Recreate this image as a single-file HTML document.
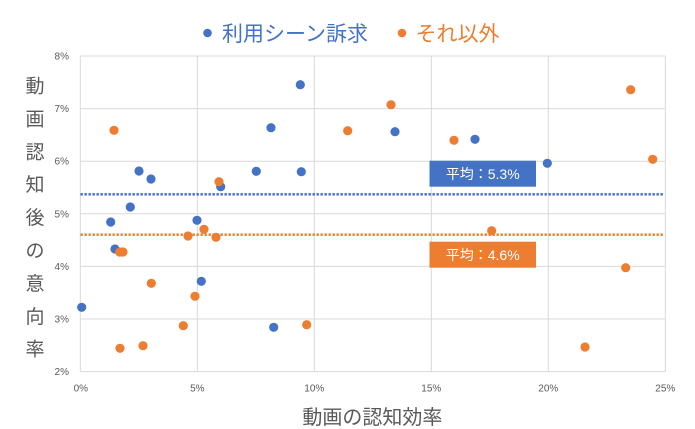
<!DOCTYPE html>
<html><head><meta charset="utf-8"><style>
html,body{margin:0;padding:0;background:#fff;}
svg{display:block;}
text{font-family:"Liberation Sans","Noto Sans CJK JP",sans-serif;}
</style></head><body>
<svg width="695" height="429" viewBox="0 0 695 429" xmlns="http://www.w3.org/2000/svg">
<rect width="695" height="429" fill="#fff"/>
<!-- legend -->
<circle cx="207.5" cy="33" r="4.3" fill="#4472C4"/>
<text x="222" y="41" font-size="21" fill="#4472C4">利用シーン訴求</text>
<circle cx="402" cy="33" r="4.3" fill="#ED7D31"/>
<text x="415.5" y="41" font-size="21" fill="#ED7D31">それ以外</text>
<!-- grid -->
<g stroke="#d9d9d9" stroke-width="1" fill="none">
<line x1="80.3" y1="56" x2="665.3" y2="56"/>
<line x1="80.3" y1="108.6" x2="665.3" y2="108.6"/>
<line x1="80.3" y1="161.2" x2="665.3" y2="161.2"/>
<line x1="80.3" y1="213.8" x2="665.3" y2="213.8"/>
<line x1="80.3" y1="266.4" x2="665.3" y2="266.4"/>
<line x1="80.3" y1="319" x2="665.3" y2="319"/>
<line x1="80.3" y1="371.6" x2="665.3" y2="371.6"/>
<line x1="80.3" y1="56" x2="80.3" y2="371.6"/>
<line x1="197.3" y1="56" x2="197.3" y2="371.6"/>
<line x1="314.3" y1="56" x2="314.3" y2="371.6"/>
<line x1="431.3" y1="56" x2="431.3" y2="371.6"/>
<line x1="548.3" y1="56" x2="548.3" y2="371.6"/>
<line x1="665.3" y1="56" x2="665.3" y2="371.6"/>
</g>
<!-- y tick labels -->
<g font-size="10" fill="#595959" text-anchor="end">
<text x="69" y="59.5">8%</text>
<text x="69" y="112.1">7%</text>
<text x="69" y="164.7">6%</text>
<text x="69" y="217.3">5%</text>
<text x="69" y="269.9">4%</text>
<text x="69" y="322.5">3%</text>
<text x="69" y="375.1">2%</text>
</g>
<!-- x tick labels -->
<g font-size="10" fill="#595959" text-anchor="middle">
<text x="80.8" y="391.5">0%</text>
<text x="197.3" y="391.5">5%</text>
<text x="314.3" y="391.5">10%</text>
<text x="431.3" y="391.5">15%</text>
<text x="548.3" y="391.5">20%</text>
<text x="665.3" y="391.5">25%</text>
</g>
<!-- axis titles -->
<text x="372.4" y="424" font-size="20" fill="#595959" text-anchor="middle">動画の認知効率</text>
<g font-size="19" fill="#595959" text-anchor="middle">
<text x="35" y="92.5">動</text>
<text x="35" y="125.4">画</text>
<text x="35" y="158.3">認</text>
<text x="35" y="191.2">知</text>
<text x="35" y="224.1">後</text>
<text x="35" y="257">の</text>
<text x="35" y="289.9">意</text>
<text x="35" y="322.8">向</text>
<text x="35" y="355.7">率</text>
</g>
<!-- average lines -->
<line x1="80.5" y1="194.3" x2="663" y2="194.3" stroke="#4472C4" stroke-width="2.6" stroke-dasharray="2.3 1.7"/>
<line x1="80.5" y1="234.7" x2="663" y2="234.7" stroke="#ED7D31" stroke-width="2.6" stroke-dasharray="2.3 1.7"/>
<!-- blue points -->
<g fill="#4472C4">
<circle cx="81.7" cy="307.3" r="4.6"/>
<circle cx="110.7" cy="222" r="4.6"/>
<circle cx="115" cy="249" r="4.6"/>
<circle cx="130.3" cy="207" r="4.6"/>
<circle cx="139" cy="171" r="4.6"/>
<circle cx="151" cy="179" r="4.6"/>
<circle cx="197" cy="220.3" r="4.6"/>
<circle cx="220.7" cy="186.7" r="4.6"/>
<circle cx="201.3" cy="281.3" r="4.6"/>
<circle cx="256.3" cy="171.3" r="4.6"/>
<circle cx="271" cy="127.7" r="4.6"/>
<circle cx="300.3" cy="84.7" r="4.6"/>
<circle cx="301.3" cy="171.7" r="4.6"/>
<circle cx="273.7" cy="327.3" r="4.6"/>
<circle cx="395" cy="131.7" r="4.6"/>
<circle cx="475" cy="139.3" r="4.6"/>
<circle cx="547.3" cy="163.3" r="4.6"/>
</g>
<!-- orange points -->
<g fill="#ED7D31">
<circle cx="114" cy="130.3" r="4.6"/>
<circle cx="119.7" cy="252" r="4.6"/>
<circle cx="123" cy="252" r="4.6"/>
<circle cx="120" cy="348.3" r="4.6"/>
<circle cx="143" cy="345.7" r="4.6"/>
<circle cx="151.3" cy="283.3" r="4.6"/>
<circle cx="183.3" cy="325.7" r="4.6"/>
<circle cx="188" cy="236" r="4.6"/>
<circle cx="195" cy="296.3" r="4.6"/>
<circle cx="204" cy="229.3" r="4.6"/>
<circle cx="216" cy="237.3" r="4.6"/>
<circle cx="219" cy="181.7" r="4.6"/>
<circle cx="306.7" cy="324.7" r="4.6"/>
<circle cx="347.7" cy="130.7" r="4.6"/>
<circle cx="391" cy="104.7" r="4.6"/>
<circle cx="454" cy="140.3" r="4.6"/>
<circle cx="491.7" cy="230.7" r="4.6"/>
<circle cx="585" cy="347" r="4.6"/>
<circle cx="625.7" cy="267.7" r="4.6"/>
<circle cx="630.7" cy="89.7" r="4.6"/>
<circle cx="652.7" cy="159.3" r="4.6"/>
</g>
<!-- average labels -->
<rect x="429.5" y="160.7" width="106.5" height="26" fill="#4472C4"/>
<text x="482.7" y="179" font-size="14" fill="#fff" text-anchor="middle">平均：5.3%</text>
<rect x="429.5" y="241.7" width="106.5" height="26" fill="#ED7D31"/>
<text x="482.7" y="260" font-size="14" fill="#fff" text-anchor="middle">平均：4.6%</text>
</svg>
</body></html>
